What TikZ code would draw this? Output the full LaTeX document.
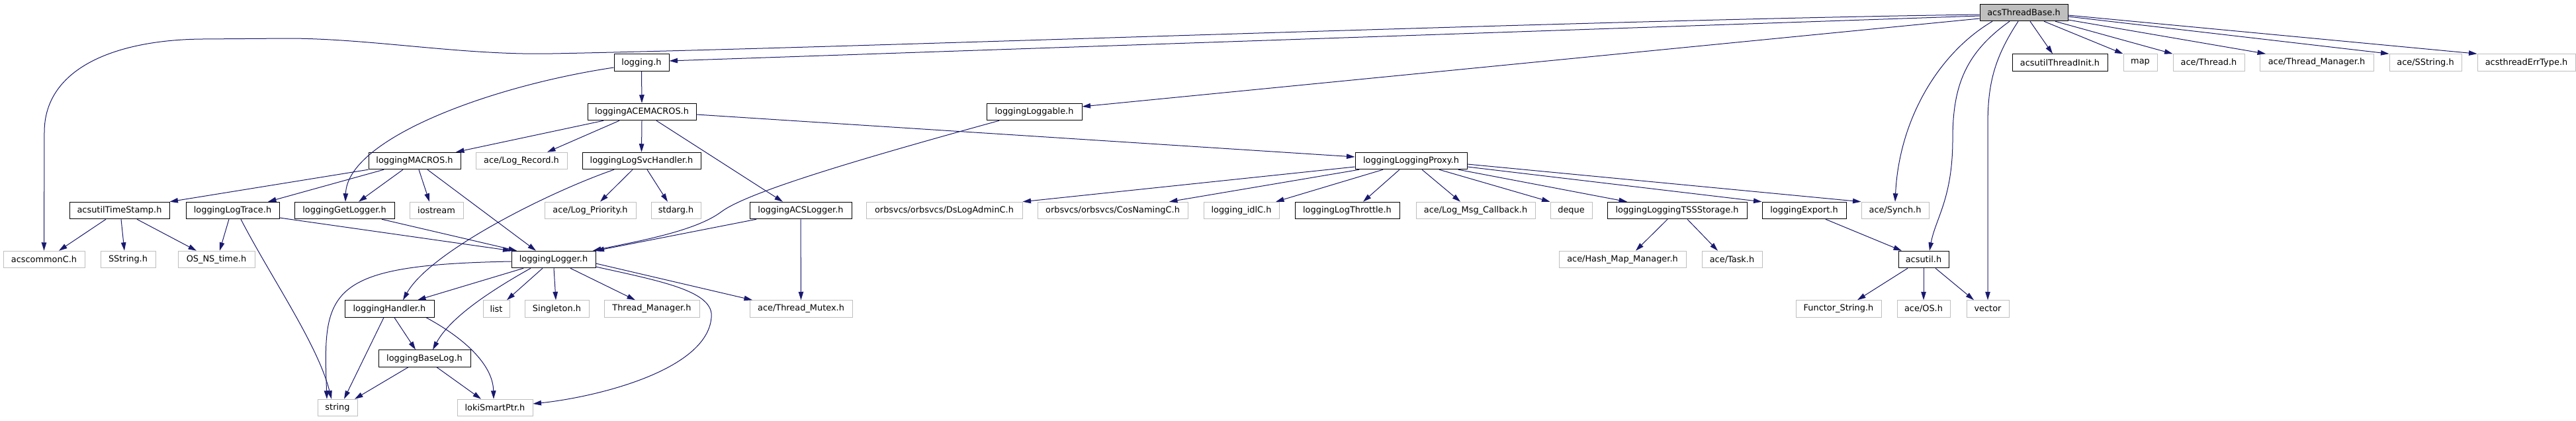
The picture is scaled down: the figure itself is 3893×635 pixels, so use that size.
\documentclass[tikz,border=0pt]{standalone}
\usepackage{fontspec}
\setmainfont{DejaVu Sans}
\usetikzlibrary{arrows.meta}
\definecolor{edgeblue}{HTML}{191970}
\definecolor{boxgray}{HTML}{BFBFBF}
\begin{document}
\begin{tikzpicture}[x=1pt,y=-1pt,
  nd/.style={draw, line width=1pt, minimum height=25.5pt, inner sep=0pt, font=\fontsize{12.9pt}{15pt}\selectfont, text=black},
  doc/.style={nd, draw=black},
  ext/.style={nd, draw=boxgray},
  root/.style={nd, draw=black, fill=boxgray},
  edge/.style={draw=edgeblue, line width=1pt, -{Triangle[length=12.5pt,width=7.5pt]}}]
\useasboundingbox (0,0) rectangle (3893,635);
% row 0
\node[root, minimum width=133pt] (T) at (3058.5,19) {acsThreadBase.h};
% row 1
\node[doc, minimum width=83pt] (L) at (969.5,94.5) {logging.h};
\node[doc, minimum width=144pt] (TI) at (3113,94.5) {acsutilThreadInit.h};
\node[ext, minimum width=51pt] (MP) at (3234.5,94.5) {map};
\node[ext, minimum width=108pt] (ATH) at (3338,94.5) {ace/Thread.h};
\node[ext, minimum width=172pt] (ATM) at (3501,94.5) {ace/Thread\_Manager.h};
\node[ext, minimum width=109pt] (ASS) at (3665.5,94.5) {ace/SString.h};
\node[ext, minimum width=148pt] (ET) at (3818,94.5) {acsthreadErrType.h};
% row 2
\node[doc, minimum width=164pt] (AM) at (970,169) {loggingACEMACROS.h};
\node[doc, minimum width=144pt] (LG) at (1563,169) {loggingLoggable.h};
% row 3
\node[doc, minimum width=139pt] (M) at (626.5,243) {loggingMACROS.h};
\node[ext, minimum width=138pt] (LR) at (788,243) {ace/Log\_Record.h};
\node[doc, minimum width=179pt] (SV) at (969.5,243) {loggingLogSvcHandler.h};
\node[doc, minimum width=169pt] (P) at (2132.5,243) {loggingLoggingProxy.h};
% row 4
\node[doc, minimum width=151pt] (TS) at (180.5,318) {acsutilTimeStamp.h};
\node[doc, minimum width=141pt] (LT) at (351.5,318) {loggingLogTrace.h};
\node[doc, minimum width=151pt] (GL) at (520.5,318) {loggingGetLogger.h};
\node[ext, minimum width=81pt] (IO) at (659.5,318) {iostream};
\node[ext, minimum width=138pt] (LP) at (892,318) {ace/Log\_Priority.h};
\node[ext, minimum width=75pt] (SA) at (1021.5,318) {stdarg.h};
\node[doc, minimum width=154pt] (AL) at (1210,318) {loggingACSLogger.h};
\node[ext, minimum width=236pt] (DS) at (1427,318) {orbsvcs/orbsvcs/DsLogAdminC.h};
\node[ext, minimum width=227pt] (CN) at (1681.5,318) {orbsvcs/orbsvcs/CosNamingC.h};
\node[ext, minimum width=114pt] (ID) at (1876,318) {logging\_idlC.h};
\node[doc, minimum width=158pt] (TH) at (2036,318) {loggingLogThrottle.h};
\node[ext, minimum width=180pt] (CB) at (2230,318) {ace/Log\_Msg\_Callback.h};
\node[ext, minimum width=63pt] (DQ) at (2374.5,318) {deque};
\node[doc, minimum width=211pt] (TSS) at (2534.5,318) {loggingLoggingTSSStorage.h};
\node[doc, minimum width=127pt] (EX) at (2726.5,318) {loggingExport.h};
\node[ext, minimum width=102pt] (SY) at (2864,318) {ace/Synch.h};
% row 5
\node[ext, minimum width=123pt] (CC) at (66.5,392) {acscommonC.h};
\node[ext, minimum width=83pt] (SS) at (193.5,392) {SString.h};
\node[ext, minimum width=116pt] (OS) at (327,392) {OS\_NS\_time.h};
\node[doc, minimum width=127pt] (LO) at (836.5,392) {loggingLogger.h};
\node[ext, minimum width=192pt] (HM) at (2452,392) {ace/Hash\_Map\_Manager.h};
\node[ext, minimum width=91pt] (TK) at (2617.5,392) {ace/Task.h};
\node[doc, minimum width=76pt] (AU) at (2907,392) {acsutil.h};
% row 6
\node[doc, minimum width=135pt] (H) at (588.5,466.5) {loggingHandler.h};
\node[ext, minimum width=40pt] (LI) at (750,466.5) {list};
\node[ext, minimum width=97pt] (SG) at (841.5,466.5) {Singleton.h};
\node[ext, minimum width=144pt] (TM) at (985,466.5) {Thread\_Manager.h};
\node[ext, minimum width=155pt] (MX) at (1210.5,466.5) {ace/Thread\_Mutex.h};
\node[ext, minimum width=129pt] (FS) at (2778.5,466.5) {Functor\_String.h};
\node[ext, minimum width=80pt] (AO) at (2907,466.5) {ace/OS.h};
\node[ext, minimum width=64pt] (VC) at (3004,466.5) {vector};
% row 7
\node[doc, minimum width=139pt] (B) at (641.5,541.5) {loggingBaseLog.h};
% row 8
\node[ext, minimum width=60pt] (ST) at (510,616) {string};
\node[ext, minimum width=114pt] (LK) at (748,616) {lokiSmartPtr.h};

% edges from acsThreadBase.h
\draw[edge] (T.west |- 0,22) .. controls (2400,30) and (1300,72) .. (835,81) .. controls (700,84) and (560,58) .. (434,58) -- (306,59) .. controls (180,60) and (67,100) .. (67,200) -- (CC.north);
\draw[edge] (T.west |- 0,24) -- (L.east |- 0,92);
\draw[edge] (T.west |- 0,28) -- (LG.east |- 0,161);
\draw[edge] (T.south -| 3011,0) .. controls (2930,80) and (2870,180) .. (SY.north);
\draw[edge] (T.south -| 3037,0) .. controls (2970,80) and (2951,130) .. (2951,210) .. controls (2951,300) and (2925,330) .. (AU.north -| 2916,0);
\draw[edge] (T.south -| 3050,0) .. controls (3012,90) and (3004,130) .. (3004,190) -- (VC.north);
\draw[edge] (T.south -| 3068,0) -- (TI.north -| 3102,0);
\draw[edge] (T.south -| 3089,0) -- (MP.north west);
\draw[edge] (T.south -| 3106,0) -- (ATH.north west);
\draw[edge] (T.east |- 0,30) -- (ATM.north -| 3424,0);
\draw[edge] (T.east |- 0,25) -- (ASS.north west);
\draw[edge] (T.east |- 0,23) -- (ET.north west);
% logging.h
\draw[edge] (L.south) -- (AM.north);
\draw[edge] (L.west |- 0,102) .. controls (740,130) and (525,210) .. (GL.north -| 522,0);
% loggingACEMACROS.h
\draw[edge] (AM.south -| 912,0) -- (M.north -| 689,0);
\draw[edge] (AM.south -| 936,0) -- (LR.north -| 827,0);
\draw[edge] (AM.south) -- (SV.north);
\draw[edge] (AM.south -| 992,0) -- (AL.north -| 1183,0);
\draw[edge] (AM.east |- 0,173) -- (P.west |- 0,237);
% loggingLoggable.h
\draw[edge] (LG.south -| 1510,0) .. controls (1300,240) and (1130,290) .. (1090,320) .. controls (1050,350) and (960,365) .. (LO.north -| 896,0);
% loggingMACROS.h
\draw[edge] (M.south west) -- (TS.north east);
\draw[edge] (M.south -| 580,0) -- (LT.north -| 405,0);
\draw[edge] (M.south -| 609,0) -- (GL.north -| 542,0);
\draw[edge] (M.south -| 633,0) -- (IO.north -| 649,0);
\draw[edge] (M.south -| 646,0) -- (LO.north -| 810,0);
% loggingLogSvcHandler.h
\draw[edge] (SV.south -| 928,0) .. controls (830,290) and (650,380) .. (H.north -| 609,0);
\draw[edge] (SV.south -| 956,0) -- (LP.north -| 907,0);
\draw[edge] (SV.south -| 978,0) -- (SA.north -| 1009,0);
% acsutilTimeStamp.h
\draw[edge] (TS.south -| 160,0) -- (CC.north -| 89,0);
\draw[edge] (TS.south -| 183,0) -- (SS.north -| 188,0);
\draw[edge] (TS.south -| 207,0) -- (OS.north -| 297,0);
% loggingLogTrace.h
\draw[edge] (LT.south -| 346,0) -- (OS.north -| 332,0);
\draw[edge] (LT.south -| 364,0) .. controls (410,420) and (480,520) .. (ST.north -| 501,0);
\draw[edge] (LT.east |- 0,329) -- (LO.north west);
% loggingGetLogger.h
\draw[edge] (GL.south -| 577,0) -- (LO.north -| 781,0);
% loggingLogger.h
\draw[edge] (LO.west |- 0,395) .. controls (490,400) and (488,440) .. (ST.north -| 494,0);
\draw[edge] (LO.south -| 791,0) -- (H.north -| 631,0);
\draw[edge] (LO.south -| 802,0) .. controls (740,440) and (680,480) .. (B.north -| 654,0);
\draw[edge] (LO.south -| 820,0) -- (LI.north -| 766,0);
\draw[edge] (LO.south -| 837,0) -- (SG.north -| 840,0);
\draw[edge] (LO.south -| 862,0) -- (TM.north -| 960,0);
\draw[edge] (LO.east |- 0,398) -- (MX.north -| 1137,0);
\draw[edge] (LO.east |- 0,403) .. controls (1000,425) and (1080,440) .. (1075,480) .. controls (1068,560) and (900,600) .. (LK.east |- 0,610);
% loggingHandler.h
\draw[edge] (H.south -| 580,0) -- (ST.north -| 520,0);
\draw[edge] (H.south -| 596,0) -- (B.north -| 628,0);
\draw[edge] (H.south -| 644,0) .. controls (700,510) and (745,550) .. (LK.north -| 746,0);
% loggingBaseLog.h
\draw[edge] (B.south -| 617,0) -- (ST.north -| 536,0);
\draw[edge] (B.south -| 660,0) -- (LK.north -| 727,0);
% loggingACSLogger.h
\draw[edge] (AL.south -| 1143,0) -- (LO.north east);
\draw[edge] (AL.south) -- (MX.north);
% loggingLoggingProxy.h
\draw[edge] (P.west |- 0,252) -- (DS.north east);
\draw[edge] (P.south -| 2054,0) -- (CN.north -| 1767,0);
\draw[edge] (P.south -| 2090,0) -- (ID.north -| 1928,0);
\draw[edge] (P.south -| 2115,0) -- (TH.north -| 2060,0);
\draw[edge] (P.south -| 2149,0) -- (CB.north -| 2207,0);
\draw[edge] (P.south -| 2175,0) -- (DQ.north west);
\draw[edge] (P.south -| 2204,0) -- (TSS.north -| 2459,0);
\draw[edge] (P.east |- 0,252) -- (EX.north west);
\draw[edge] (P.east |- 0,248) -- (SY.north west);
% loggingLoggingTSSStorage.h
\draw[edge] (TSS.south -| 2520,0) -- (HM.north -| 2472,0);
\draw[edge] (TSS.south -| 2550,0) -- (TK.north -| 2596,0);
% loggingExport.h
\draw[edge] (EX.south -| 2759,0) -- (AU.north -| 2874,0);
% acsutil.h
\draw[edge] (AU.south -| 2883,0) -- (FS.north -| 2807,0);
\draw[edge] (AU.south) -- (AO.north);
\draw[edge] (AU.south -| 2925,0) -- (VC.north -| 2983,0);
\end{tikzpicture}
\end{document}
